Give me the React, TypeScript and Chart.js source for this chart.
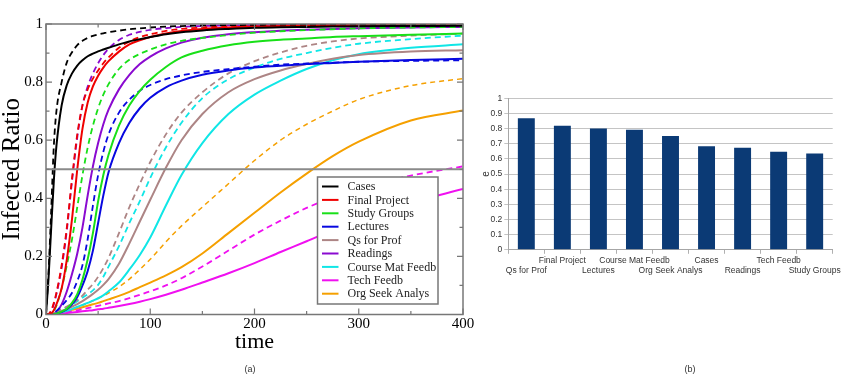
import { useEffect, useRef } from 'react';
import { Chart, registerables } from 'chart.js';

Chart.register(...registerables);

// ---------- Left panel (a): infected ratio vs time ----------
const TIME = [0, 2.5, 5, 7.5, 10, 15, 20, 25, 30, 35, 40, 45, 50, 55, 60, 70, 80, 90, 100, 115, 130, 150, 175, 200, 225, 250, 275, 300, 350, 400];

const CASES = [0, 0.13, 0.3, 0.46, 0.58, 0.72, 0.79, 0.83, 0.857, 0.875, 0.889, 0.898, 0.906, 0.912, 0.918, 0.93, 0.94, 0.948, 0.955, 0.965, 0.972, 0.978, 0.983, 0.987, 0.989, 0.99, 0.991, 0.992, 0.993, 0.994];
const CASES_D = [0, 0.15, 0.36, 0.58, 0.7, 0.8, 0.868, 0.903, 0.927, 0.942, 0.952, 0.959, 0.964, 0.968, 0.972, 0.977, 0.982, 0.985, 0.988, 0.991, 0.993, 0.995, 0.996, 0.997, 0.998, 0.998, 0.999, 0.999, 0.999, 1.0];
const FINAL = [0, 0, 0.003, 0.015, 0.035, 0.09, 0.19, 0.33, 0.5, 0.64, 0.73, 0.785, 0.822, 0.85, 0.872, 0.905, 0.93, 0.944, 0.955, 0.967, 0.976, 0.983, 0.988, 0.991, 0.993, 0.995, 0.996, 0.997, 0.998, 0.998];
const FINAL_D = [0, 0.002, 0.015, 0.04, 0.075, 0.17, 0.3, 0.47, 0.62, 0.72, 0.775, 0.812, 0.84, 0.865, 0.885, 0.918, 0.94, 0.955, 0.965, 0.976, 0.983, 0.988, 0.992, 0.994, 0.996, 0.997, 0.998, 0.998, 0.999, 0.999];
const STUDY = [0, 0, 0, 0.001, 0.003, 0.01, 0.02, 0.04, 0.07, 0.12, 0.19, 0.28, 0.39, 0.48, 0.55, 0.65, 0.72, 0.77, 0.808, 0.852, 0.885, 0.908, 0.927, 0.939, 0.946, 0.95, 0.955, 0.958, 0.963, 0.967];
const STUDY_D = [0, 0, 0.003, 0.012, 0.03, 0.09, 0.17, 0.26, 0.37, 0.48, 0.575, 0.65, 0.71, 0.757, 0.793, 0.845, 0.877, 0.897, 0.912, 0.93, 0.942, 0.952, 0.962, 0.97, 0.975, 0.979, 0.982, 0.985, 0.988, 0.99];
const LECT = [0, 0, 0, 0.001, 0.003, 0.008, 0.018, 0.035, 0.06, 0.1, 0.15, 0.22, 0.315, 0.41, 0.49, 0.59, 0.66, 0.71, 0.746, 0.782, 0.805, 0.825, 0.84, 0.85, 0.856, 0.862, 0.866, 0.87, 0.876, 0.88];
const LECT_D = [0, 0, 0.002, 0.006, 0.012, 0.03, 0.05, 0.075, 0.115, 0.17, 0.26, 0.375, 0.48, 0.56, 0.62, 0.695, 0.74, 0.77, 0.79, 0.81, 0.823, 0.835, 0.845, 0.853, 0.86, 0.864, 0.867, 0.87, 0.873, 0.875];
const QS = [0, 0, 0.001, 0.003, 0.006, 0.012, 0.019, 0.027, 0.036, 0.046, 0.058, 0.071, 0.085, 0.102, 0.122, 0.175, 0.245, 0.32, 0.395, 0.505, 0.6, 0.69, 0.765, 0.81, 0.84, 0.862, 0.88, 0.893, 0.905, 0.91];
const QS_D = [0, 0.001, 0.003, 0.006, 0.01, 0.018, 0.027, 0.038, 0.05, 0.065, 0.085, 0.105, 0.13, 0.16, 0.195, 0.28, 0.37, 0.45, 0.525, 0.62, 0.695, 0.765, 0.83, 0.872, 0.902, 0.925, 0.94, 0.95, 0.96, 0.967];
const READ = [0, 0, 0, 0.002, 0.008, 0.035, 0.08, 0.14, 0.21, 0.3, 0.41, 0.51, 0.59, 0.655, 0.705, 0.775, 0.825, 0.862, 0.888, 0.916, 0.936, 0.953, 0.965, 0.972, 0.977, 0.98, 0.983, 0.985, 0.988, 0.99];
const READ_D = [0, 0.002, 0.012, 0.035, 0.07, 0.16, 0.29, 0.46, 0.61, 0.72, 0.785, 0.83, 0.865, 0.893, 0.915, 0.945, 0.963, 0.973, 0.98, 0.986, 0.99, 0.993, 0.995, 0.996, 0.997, 0.998, 0.998, 0.999, 0.999, 0.999];
const COURSE = [0, 0, 0.001, 0.002, 0.004, 0.008, 0.013, 0.019, 0.026, 0.033, 0.04, 0.048, 0.056, 0.066, 0.08, 0.11, 0.155, 0.205, 0.265, 0.375, 0.48, 0.59, 0.69, 0.757, 0.805, 0.845, 0.875, 0.896, 0.918, 0.93];
const COURSE_D = [0, 0.001, 0.003, 0.006, 0.01, 0.017, 0.025, 0.035, 0.046, 0.058, 0.07, 0.083, 0.102, 0.13, 0.165, 0.235, 0.315, 0.39, 0.47, 0.575, 0.66, 0.745, 0.81, 0.85, 0.88, 0.9, 0.918, 0.932, 0.948, 0.96];
const TECH = [0, 0, 0, 0.001, 0.002, 0.003, 0.005, 0.007, 0.009, 0.011, 0.013, 0.015, 0.018, 0.02, 0.023, 0.029, 0.036, 0.044, 0.053, 0.068, 0.085, 0.11, 0.142, 0.177, 0.215, 0.252, 0.29, 0.325, 0.385, 0.432];
const TECH_D = [0, 0, 0.001, 0.002, 0.003, 0.005, 0.008, 0.011, 0.014, 0.018, 0.022, 0.026, 0.03, 0.034, 0.038, 0.046, 0.056, 0.068, 0.08, 0.1, 0.125, 0.165, 0.22, 0.275, 0.323, 0.367, 0.403, 0.433, 0.478, 0.51];
const ORG = [0, 0, 0.001, 0.003, 0.005, 0.008, 0.012, 0.016, 0.02, 0.025, 0.03, 0.035, 0.04, 0.046, 0.052, 0.064, 0.078, 0.094, 0.11, 0.135, 0.163, 0.21, 0.28, 0.35, 0.42, 0.485, 0.545, 0.595, 0.668, 0.702];
const ORG_D = [0, 0.001, 0.003, 0.005, 0.007, 0.011, 0.015, 0.02, 0.026, 0.032, 0.039, 0.047, 0.055, 0.064, 0.074, 0.095, 0.122, 0.155, 0.19, 0.25, 0.305, 0.37, 0.45, 0.53, 0.6, 0.655, 0.7, 0.74, 0.788, 0.812];

const HALF_LINE = 0.5;

const SERIES = [
  { name: 'Cases', color: '#000000', solid: CASES, dashed: CASES_D },
  { name: 'Final Project', color: '#f00000', solid: FINAL, dashed: FINAL_D },
  { name: 'Study Groups', color: '#18e018', solid: STUDY, dashed: STUDY_D },
  { name: 'Lectures', color: '#0808e0', solid: LECT, dashed: LECT_D },
  { name: 'Qs for Prof', color: '#ad8585', solid: QS, dashed: QS_D },
  { name: 'Readings', color: '#8a0ad0', solid: READ, dashed: READ_D },
  { name: 'Course Mat Feedb', color: '#10e6e6', solid: COURSE, dashed: COURSE_D },
  { name: 'Tech Feedb', color: '#f010f0', solid: TECH, dashed: TECH_D },
  { name: 'Org Seek Analys', color: '#f5a000', solid: ORG, dashed: ORG_D },
];

// ---------- Right panel (b): bar chart ----------
const BAR_LABELS = ['Qs for Prof', 'Final Project', 'Lectures', 'Course Mat Feedb', 'Org Seek Analys', 'Cases', 'Readings', 'Tech Feedb', 'Study Groups'];
const BAR_VALUES = [0.868, 0.819, 0.8, 0.793, 0.751, 0.683, 0.674, 0.648, 0.635];

const SERIF = 'Liberation Serif';
const SANS = 'Liberation Sans';

const toPoints = (vals: number[]) => TIME.map((t, i) => ({ x: t, y: vals[i] }));
const fmt = (v: any) => String(Math.round(Number(v) * 10) / 10);

const framePlugin = {
  id: 'framePlugin',
  afterDatasetsDraw(chart: any) {
    const { ctx, chartArea: a, scales } = chart;
    const x = scales.x;
    const y = scales.y;
    ctx.save();
    const yh = y.getPixelForValue(HALF_LINE);
    ctx.strokeStyle = '#8a8a8a';
    ctx.lineWidth = 2;
    ctx.beginPath();
    ctx.moveTo(a.left, yh);
    ctx.lineTo(a.right, yh);
    ctx.stroke();
    ctx.strokeStyle = '#777777';
    ctx.lineWidth = 1.5;
    ctx.strokeRect(a.left, a.top, a.right - a.left, a.bottom - a.top);
    ctx.lineWidth = 1.2;
    ctx.beginPath();
    for (let v = 0; v <= 400; v += 50) {
      const px = x.getPixelForValue(v);
      const len = v % 100 === 0 ? 6 : 3.5;
      ctx.moveTo(px, a.bottom); ctx.lineTo(px, a.bottom - len);
      ctx.moveTo(px, a.top); ctx.lineTo(px, a.top + len);
    }
    for (let k = 0; k <= 10; k++) {
      const py = y.getPixelForValue(k / 10);
      const len = k % 2 === 0 ? 6 : 3.5;
      ctx.moveTo(a.left, py); ctx.lineTo(a.left + len, py);
      ctx.moveTo(a.right, py); ctx.lineTo(a.right - len, py);
    }
    ctx.stroke();
    const bw = 120.5, bh = 127;
    const bx = a.right - 25 - bw;
    const by = a.bottom - 10.5 - bh;
    ctx.fillStyle = '#ffffff';
    ctx.fillRect(bx, by, bw, bh);
    ctx.strokeStyle = '#777777';
    ctx.lineWidth = 1.5;
    ctx.strokeRect(bx, by, bw, bh);
    ctx.font = `12px "${SERIF}"`;
    ctx.textBaseline = 'middle';
    ctx.textAlign = 'left';
    SERIES.forEach((s, i) => {
      const ry = by + 9.5 + i * 13.4;
      ctx.strokeStyle = s.color;
      ctx.lineWidth = 2;
      ctx.beginPath();
      ctx.moveTo(bx + 4.5, ry);
      ctx.lineTo(bx + 21, ry);
      ctx.stroke();
      ctx.fillStyle = '#222222';
      ctx.fillText(s.name, bx + 30, ry + 0.5);
    });
    ctx.restore();
  },
};

export default function App() {
  const leftRef = useRef<HTMLCanvasElement>(null);
  const rightRef = useRef<HTMLCanvasElement>(null);

  useEffect(() => {
    const datasets: any[] = [];
    SERIES.forEach((s) => {
      datasets.push({
        label: s.name,
        data: toPoints(s.solid),
        borderColor: s.color,
        borderWidth: 2,
        pointRadius: 0,
        fill: false,
      });
      datasets.push({
        label: s.name + ' (dashed)',
        data: toPoints(s.dashed),
        borderColor: s.color,
        borderWidth: s.name === 'Org Seek Analys' ? 1.5 : 1.8,
        borderDash: s.name === 'Org Seek Analys' ? [5, 4] : [6, 4],
        pointRadius: 0,
        fill: false,
      });
    });

    const left = new Chart(leftRef.current as HTMLCanvasElement, {
      type: 'line',
      data: { datasets },
      options: {
        responsive: false,
        animation: false,
        layout: { padding: { top: 24, right: 17, bottom: 35, left: 0 } },
        elements: { line: { cubicInterpolationMode: 'monotone' }, point: { radius: 0 } },
        plugins: { legend: { display: false }, tooltip: { enabled: false } },
        scales: {
          x: {
            type: 'linear',
            min: 0,
            max: 400,
            ticks: { stepSize: 100, font: { family: SERIF, size: 15 }, color: '#000', padding: 1 },
            grid: { display: false, drawTicks: false },
            border: { display: false },
            title: { display: true, text: 'time', font: { family: SERIF, size: 22, lineHeight: 1 }, padding: 0, color: '#000' },
            afterFit: (s: any) => { s.height = 38.5; },
          },
          y: {
            type: 'linear',
            min: 0,
            max: 1,
            ticks: { stepSize: 0.2, font: { family: SERIF, size: 15 }, color: '#000', padding: 3, callback: fmt },
            grid: { display: false, drawTicks: false },
            border: { display: false },
            title: { display: true, text: 'Infected Ratio', font: { family: SERIF, size: 25, lineHeight: 1 }, padding: 0, color: '#000' },
            afterFit: (s: any) => { s.width = 46; },
          },
        },
      } as any,
      plugins: [framePlugin],
    });

    const right = new Chart(rightRef.current as HTMLCanvasElement, {
      type: 'bar',
      data: {
        labels: BAR_LABELS,
        datasets: [{
          data: BAR_VALUES,
          backgroundColor: '#0b3a75',
          borderWidth: 0,
          barPercentage: 0.47,
          categoryPercentage: 1,
        }],
      },
      options: {
        responsive: false,
        animation: false,
        layout: { padding: { top: 98.3, right: 32.3, bottom: 100, left: 0 } },
        plugins: { legend: { display: false }, tooltip: { enabled: false } },
        scales: {
          x: {
            grid: { offset: true, drawOnChartArea: false, drawTicks: true, tickLength: 4, color: '#b0b0b0' },
            border: { color: '#a6a6a6' },
            ticks: {
              autoSkip: false,
              maxRotation: 0,
              minRotation: 0,
              padding: 2,
              color: '#333',
              font: { family: SANS, size: 8.5, lineHeight: 1.2 },
              callback: (_v: any, i: number) => (i % 2 === 0 ? ['', BAR_LABELS[i]] : [BAR_LABELS[i]]),
            },
            afterFit: (s: any) => { s.height = 38.2; },
          },
          y: {
            min: 0,
            max: 1,
            ticks: { stepSize: 0.1, padding: 2, color: '#333', font: { family: SANS, size: 8.5 }, callback: fmt },
            grid: { color: '#c4c4c4', tickLength: 4 },
            border: { color: '#a6a6a6' },
            title: { display: true, text: 'e', color: '#333', font: { family: SANS, size: 10, lineHeight: 1 }, padding: { top: 1, bottom: 0 } },
            afterFit: (s: any) => { s.width = 28.3; },
          },
        },
      } as any,
    });

    return () => {
      left.destroy();
      right.destroy();
    };
  }, []);

  return (
    <div style={{ position: 'absolute', left: 0, top: 0, width: 865, height: 388, background: '#fff', overflow: 'hidden' }}>
      <canvas ref={leftRef} width={480} height={388} style={{ position: 'absolute', left: 0, top: 0, width: 480, height: 388 }} />
      <canvas ref={rightRef} width={385} height={388} style={{ position: 'absolute', left: 480, top: 0, width: 385, height: 388 }} />
      <div style={{ position: 'absolute', left: 230, top: 364, width: 40, textAlign: 'center', font: `9px "${SANS}"`, color: '#333' }}>(a)</div>
      <div style={{ position: 'absolute', left: 670, top: 364, width: 40, textAlign: 'center', font: `9px "${SANS}"`, color: '#333' }}>(b)</div>
    </div>
  );
}
